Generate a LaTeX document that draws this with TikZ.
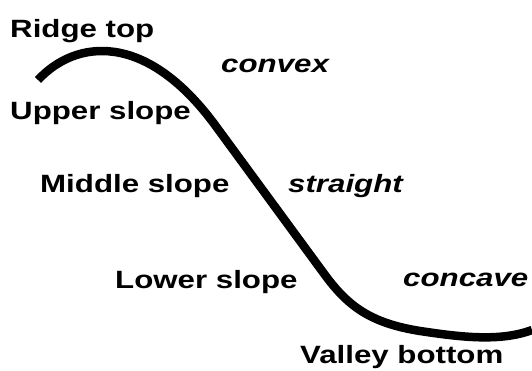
\documentclass[tikz,border=0pt]{standalone}
\usepackage{fontspec}
\setmainfont{Liberation Sans}[FakeStretch=1.25]
\usepackage{tikz}

\begin{document}
\begin{tikzpicture}[x=1pt,y=-1pt,
    zone/.style={anchor=base west,inner sep=0pt,font=\fontsize{25}{30}\selectfont\bfseries},
    form/.style={zone,font=\fontsize{25}{30}\selectfont\bfseries\itshape},
    profile/.style={line width=8.5pt}]
       \useasboundingbox (0,0) rectangle (532,371);

       \node[zone] (ridge) at (10,38) {Ridge top};
       \node[zone] (upper) at (10,120) {Upper slope};
       \node[zone] (middle) at (40,193) {Middle slope};
       \node[zone] (lower) at (115,288) {Lower slope};
       \node[zone] (valley) at (300,363) {Valley bottom};

       \node[form] (convex) at (221,73) {convex};
       \node[form] (straight) at (288,193) {straight};
       \node[form] (concave) at (403,286) {concave};

       \draw[profile] (38,80) .. controls (75,40) and (145,30) .. (215,125)
          -- (325,275) .. controls (348,306) and (370,323) .. (420,331)
          .. controls (460,337) and (500,342) .. (532,330);
    \end{tikzpicture}
\end{document}
